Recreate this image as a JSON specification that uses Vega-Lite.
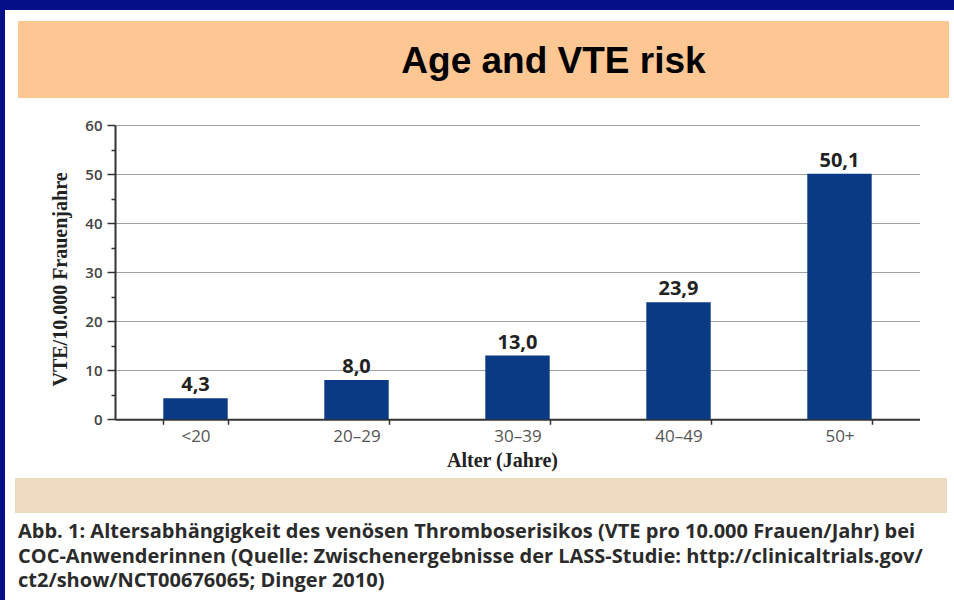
{
  "$schema": "https://vega.github.io/schema/vega-lite/v6.json",
  "background": "#050f88",
  "padding": {"top": 9, "left": 5, "right": 0, "bottom": 0},
  "spacing": 0,
  "config": {
    "view": {"stroke": null, "fill": "white"},
    "concat": {"spacing": 0},
    "locale": {"number": {"decimal": ",", "thousands": ".", "grouping": [3], "currency": ["", " €"]}}
  },
  "datasets": {
    "vte": [
      {"age": "<20", "vte": 4.3},
      {"age": "20–29", "vte": 8.0},
      {"age": "30–39", "vte": 13.0},
      {"age": "40–49", "vte": 23.9},
      {"age": "50+", "vte": 50.1}
    ]
  },
  "vconcat": [
    {
      "width": 949, "height": 11,
      "view": {"fill": "white", "stroke": null},
      "data": {"values": [{}]},
      "mark": {"type": "text", "text": ""}
    },
    {
      "bounds": "flush", "spacing": 0,
      "hconcat": [
        {"width": 13, "height": 77, "view": {"fill": "white", "stroke": null}, "data": {"values": [{}]}, "mark": {"type": "text", "text": ""}},
        {
          "width": 931, "height": 77,
          "view": {"fill": "#fdc794", "stroke": null},
          "data": {"values": [{"title": "Age and VTE risk"}]},
          "mark": {"type": "text", "font": "Liberation Sans", "fontWeight": "bold", "fontSize": 37, "color": "#000000", "dx": 70, "dy": 13, "baseline": "alphabetic"},
          "encoding": {"text": {"field": "title"}}
        },
        {"width": 5, "height": 77, "view": {"fill": "white", "stroke": null}, "data": {"values": [{}]}, "mark": {"type": "text", "text": ""}}
      ]
    },
    {
      "bounds": "flush", "spacing": 0,
      "hconcat": [
        {"width": 110, "height": 380, "view": {"fill": "white", "stroke": null}, "data": {"values": [{}]}, "mark": {"type": "text", "text": ""}},
        {
          "width": 805, "height": 380,
          "view": {"fill": "white", "stroke": null},
          "data": {"name": "vte"},
          "resolve": {"axis": {"y": "independent"}},
          "layer": [
            {
              "mark": {"type": "bar", "color": "#0b3a85"},
              "encoding": {
                "x": {
                  "field": "age", "type": "nominal", "sort": null,
                  "scale": {"paddingInner": 0.6, "paddingOuter": 0.3},
                  "axis": {
                    "orient": "bottom", "offset": -58.7,
                    "title": "Alter (Jahre)", "titleFont": "Liberation Serif", "titleFontSize": 20, "titleFontWeight": "bold", "titleColor": "#222222", "titlePadding": 6, "titleX": 387,
                    "labelFont": "Open Sans", "labelFontSize": 17, "labelColor": "#555555", "labelAngle": 0, "labelPadding": 4,
                    "tickBand": "extent", "tickSize": 5, "tickColor": "#333333", "tickWidth": 1.5,
                    "domainColor": "#333333", "domainWidth": 2, "grid": false
                  }
                },
                "y": {
                  "field": "vte", "type": "quantitative",
                  "scale": {"domain": [0, 60], "range": [321.3, 27.3], "nice": false},
                  "axis": {
                    "orient": "left", "values": [0, 10, 20, 30, 40, 50, 60],
                    "title": "VTE/10.000 Frauenjahre", "titleFont": "Liberation Serif", "titleFontSize": 20, "titleFontWeight": "bold", "titleColor": "#222222", "titlePadding": 14, "titleY": 181,
                    "labelFont": "Open Sans", "labelFontSize": 15, "labelFontWeight": 600, "labelColor": "#444444", "labelPadding": 5,
                    "tickSize": 8, "tickColor": "#333333", "tickWidth": 1.5,
                    "domainColor": "#333333", "domainWidth": 2,
                    "grid": true, "gridColor": "#a0a0a0", "gridWidth": 1.2
                  }
                }
              }
            },
            {
              "mark": {"type": "text", "dy": -7, "baseline": "alphabetic", "font": "Open Sans", "fontWeight": "bold", "fontSize": 20, "color": "#222222"},
              "encoding": {
                "x": {"field": "age", "type": "nominal", "sort": null},
                "y": {
                  "field": "vte", "type": "quantitative",
                  "axis": {"orient": "left", "values": [5, 15, 25, 35, 45, 55], "labels": false, "domain": false, "grid": false, "title": null, "tickSize": 4, "tickColor": "#333333", "tickWidth": 1.5}
                },
                "text": {"field": "vte", "type": "quantitative", "format": ".1f"}
              }
            }
          ]
        },
        {"width": 34, "height": 380, "view": {"fill": "white", "stroke": null}, "data": {"values": [{}]}, "mark": {"type": "text", "text": ""}}
      ]
    },
    {
      "bounds": "flush", "spacing": 0,
      "hconcat": [
        {"width": 10, "height": 35, "view": {"fill": "white", "stroke": null}, "data": {"values": [{}]}, "mark": {"type": "text", "text": ""}},
        {"width": 932, "height": 35, "view": {"fill": "#eedbbf", "stroke": null}, "data": {"values": [{}]}, "mark": {"type": "text", "text": ""}},
        {"width": 7, "height": 35, "view": {"fill": "white", "stroke": null}, "data": {"values": [{}]}, "mark": {"type": "text", "text": ""}}
      ]
    },
    {
      "width": 949, "height": 88,
      "view": {"fill": "white", "stroke": null},
      "data": {"values": [
        {"line": 1, "text": "Abb. 1: Altersabhängigkeit des venösen Thromboserisikos (VTE pro 10.000 Frauen/Jahr) bei"},
        {"line": 2, "text": "COC-Anwenderinnen (Quelle: Zwischenergebnisse der LASS-Studie: http://clinicaltrials.gov/"},
        {"line": 3, "text": "ct2/show/NCT00676065; Dinger 2010)"}
      ]},
      "mark": {"type": "text", "align": "left", "baseline": "alphabetic", "font": "Open Sans", "fontWeight": "bold", "fontSize": 20, "color": "#2b2b2b", "dx": 13, "dy": 5.5},
      "encoding": {
        "x": {"datum": 0, "type": "quantitative", "scale": {"domain": [0, 1]}, "axis": null},
        "y": {"field": "line", "type": "ordinal", "axis": null, "scale": {"padding": 0.8}},
        "text": {"field": "text"}
      }
    }
  ]
}
